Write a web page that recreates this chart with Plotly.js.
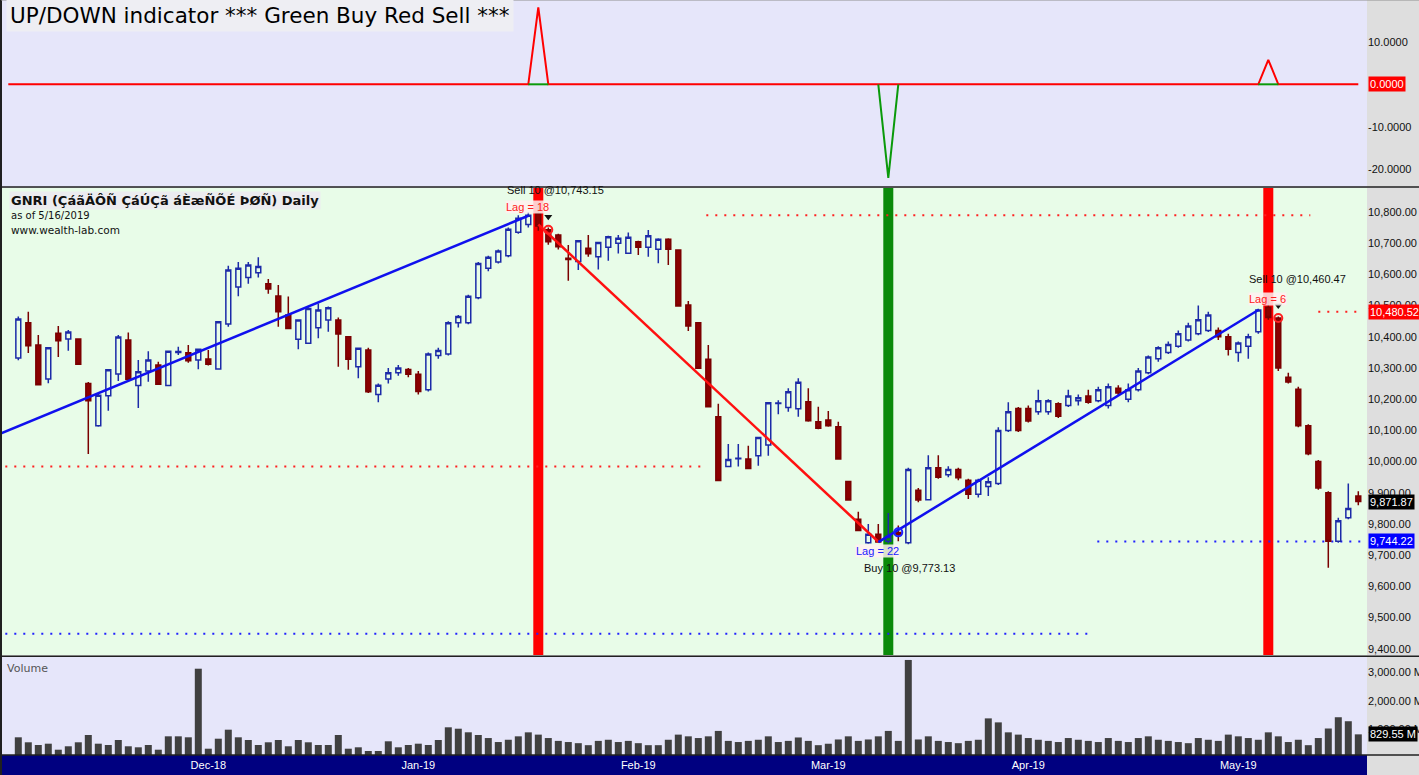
<!DOCTYPE html>
<html><head><meta charset="utf-8">
<script src="https://cdn.plot.ly/plotly-3.0.1.min.js"></script>
<style>html,body{margin:0;padding:0;background:#dedede;overflow:hidden}#chart{width:1419px;height:775px}</style>
</head><body><div id="chart"></div>
<script>
// ---- price data (bar index 0..134) ----
const openP = [10332,10445,10374,10265,10411,10393,10393,10250,10115,10211,10281,10390,10244,10290,10310,10244,10350,10349,10326,10329,
10297,10441,10560,10590,10605,10570,10531,10470,10392,10379,10429,10454,10454,10400,10304,10358,10215,10265,10285,10295,
10280,10230,10340,10345,10445,10445,10525,10620,10640,10660,10735,10760,10795,10743,10726,10652,10641,10684,10657,10687,
10700,10668,10705,10687,10681,10713,10678,10502,10445,10328,10144,9984,10009,10008,10019,10053,10186,10173,10169,10192,
10128,10133,10112,9936,9815,9740,9767,9745,9773,9740,9908,9878,9980,9958,9975,9940,9895,9920,9930,10100,
10170,10170,10160,10160,10185,10180,10195,10210,10195,10180,10235,10200,10230,10285,10330,10350,10370,10390,10410,10420,
10420,10400,10350,10370,10416,10495,10460,10270,10232,10115,10000,9900,9745,9820,9890];
const highP = [10465,10480,10406,10366,10435,10422,10395,10255,10218,10296,10406,10414,10326,10354,10320,10356,10368,10374,10362,10358,
10450,10628,10640,10640,10655,10585,10566,10529,10456,10495,10507,10497,10462,10402,10365,10365,10250,10300,10310,10300,
10290,10350,10365,10450,10470,10535,10640,10660,10680,10750,10790,10800,10830,10750,10730,10694,10710,10726,10705,10724,
10726,10734,10708,10742,10716,10716,10680,10515,10447,10374,10185,10056,10056,10051,10080,10191,10197,10235,10267,10235,
10176,10162,10128,9938,9839,9800,9800,9835,9795,9980,9915,10020,10020,9985,9980,9945,9945,9950,10110,10190,
10175,10180,10230,10200,10190,10230,10215,10230,10240,10250,10245,10250,10300,10340,10370,10385,10420,10445,10500,10480,
10430,10410,10385,10410,10490,10520,10465,10285,10240,10120,10005,9905,9820,9930,9905];
const lowP = [10325,10348,10245,10251,10335,10355,10310,10024,10112,10163,10258,10262,10172,10256,10246,10242,10342,10317,10296,10308,
10295,10432,10530,10570,10590,10538,10432,10425,10360,10377,10395,10416,10304,10294,10267,10220,10190,10250,10275,10270,
10215,10225,10330,10340,10430,10440,10520,10610,10635,10655,10730,10750,10740,10695,10680,10580,10614,10657,10616,10644,
10667,10666,10662,10657,10636,10630,10497,10419,10297,10174,9937,9982,9984,9976,9987,10019,10152,10160,10144,10128,
10104,10112,10006,9875,9777,9737,9740,9738,9745,9735,9870,9875,9945,9950,9940,9880,9885,9890,9925,10095,
10095,10125,10150,10150,10140,10175,10180,10185,10190,10170,10210,10190,10225,10280,10320,10345,10365,10385,10405,10415,
10390,10340,10320,10330,10410,10455,10290,10250,10110,10020,9910,9660,9740,9815,9860];
const closeP = [10457,10371,10246,10365,10387,10415,10312,10195,10213,10294,10399,10264,10288,10326,10248,10354,10353,10323,10360,10312,
10448,10614,10620,10630,10625,10553,10480,10427,10454,10491,10486,10493,10409,10328,10363,10224,10245,10285,10300,10280,
10225,10345,10356,10445,10465,10530,10635,10655,10675,10745,10780,10790,10755,10705,10689,10648,10708,10666,10702,10721,
10716,10719,10687,10724,10713,10681,10499,10435,10299,10176,9939,10007,10011,9978,10077,10189,10188,10224,10254,10131,
10107,10115,10008,9877,9779,9767,9742,9760,9766,9975,9877,9980,9950,9975,9948,9895,9940,9935,10100,10160,
10100,10130,10195,10195,10145,10210,10205,10190,10230,10240,10220,10230,10290,10335,10365,10375,10410,10435,10455,10470,
10400,10360,10380,10400,10486,10462,10300,10255,10115,10025,9915,9745,9810,9850,9871.87];
// volume in millions
const volumeM = [726,551,456,502,291,411,551,807,502,456,632,411,375,456,291,761,761,726,3133,326,
677,993,726,632,456,551,632,411,632,551,456,456,807,326,375,246,246,586,375,456,
502,456,632,1077,1028,902,807,700,560,640,760,900,820,700,600,560,520,450,600,640,
560,600,520,450,450,640,820,760,700,760,950,600,560,600,640,760,560,600,720,600,
450,500,650,760,600,650,760,950,600,3440,650,760,600,560,520,600,640,1390,1250,900,
820,700,640,600,560,700,640,600,560,700,600,560,700,760,640,600,560,520,700,640,
600,820,760,700,640,900,760,560,640,450,700,1035,1430,1290,829.55];
// UP/DOWN indicator spikes (bar, value)
const signalBars = [52, 87, 125];
const signalValues = [18.2, -22.1, 5.8];
const signalSide = ['sell','buy','sell'];
// month tick labels
const monthBars = [19, 40, 62, 81, 101, 122];
const monthLabels = ['Dec-18','Jan-19','Feb-19','Mar-19','Apr-19','May-19'];
// trend lines [bar, price]
const trendUp1 = {bars:[-2, 51], prices:[10087, 10788]};
const trendDown = {bars:[52, 86], prices:[10760, 9743]};
const trendUp2 = {bars:[86, 124], prices:[9742, 10486]};
// dotted levels
const levelFrom = [68.8, -1.3, 130, -1.3, 107.9];
const levelTo = [129.2, 68.2, 134.2, 107.2, 134.2];
const levelPrice = [10790, 9984, 10480.52, 9448, 9744.22];
const levelColor = ['#ff2020','#ff2020','#ff2020','#2020ff','#2020ff'];
// trades
const tradeBars = [53, 88, 126];
const tradePrices = [10743.15, 9773.13, 10460.47];
const tradeLabels = ['Sell 10 @10,743.15','Buy 10 @9,773.13','Sell 10 @10,460.47'];
const lagLabels = ['Lag = 18','Lag = 22','Lag = 6'];
// exit arrows above sell bars (bar, price)
const arrowBars = [53, 126];
const arrowPrices = [10785, 10500];
// price tags on the axis
const lastClose = 9871.87, stopLevel = 10480.52, buyLevel = 9744.22, lastVolume = 829.55;

const bars = closeP.map((_, i) => i);
const FONT = 'Liberation Sans, Arial, sans-serif';

// indicator series (starts one bar before the first price bar)
const indX = [-1].concat(bars);
const indRed = indX.map(() => 0);
const greenX = [], greenY = [];
signalBars.forEach((b, k) => {
  if (signalValues[k] > 0) indRed[b + 1] = signalValues[k];
  greenX.push(b - 1, b, b + 1, null);
  greenY.push(0, signalValues[k] > 0 ? 0 : signalValues[k], 0, null);
});

const traces = [
  {type:'scatter', mode:'lines', x:indX, y:indRed, xaxis:'x', yaxis:'y', line:{color:'#ff0000', width:2}, hoverinfo:'skip'},
  {type:'scatter', mode:'lines', x:greenX, y:greenY, xaxis:'x', yaxis:'y', line:{color:'#0a9a0a', width:2}, hoverinfo:'skip', connectgaps:false},
  {type:'candlestick', x:bars, open:openP, high:highP, low:lowP, close:closeP, xaxis:'x', yaxis:'y2',
    increasing:{line:{color:'#1c2aa8', width:1.5}, fillcolor:'rgba(0,0,0,0)'},
    decreasing:{line:{color:'#7a0000', width:1.5}, fillcolor:'#8b0000'}, whiskerwidth:0, hoverinfo:'skip'},
  {type:'scatter', mode:'lines', x:trendUp1.bars, y:trendUp1.prices, xaxis:'x', yaxis:'y2', line:{color:'#1010ee', width:2.5}, hoverinfo:'skip'},
  {type:'scatter', mode:'lines', x:trendDown.bars, y:trendDown.prices, xaxis:'x', yaxis:'y2', line:{color:'#ff1010', width:2.5}, hoverinfo:'skip'},
  {type:'scatter', mode:'lines', x:trendUp2.bars, y:trendUp2.prices, xaxis:'x', yaxis:'y2', line:{color:'#1010ee', width:2.5}, hoverinfo:'skip'},
  {type:'scatter', mode:'markers', x:tradeBars, y:tradePrices, xaxis:'x', yaxis:'y2',
    marker:{symbol:'circle-open', size:8, color:signalSide.map(s => s==='buy' ? '#2020ff' : '#ff2020'), line:{width:2}}, hoverinfo:'skip'},
  {type:'scatter', mode:'markers', x:arrowBars, y:arrowPrices, xaxis:'x', yaxis:'y2',
    marker:{symbol:'triangle-down', size:7, color:'#111111'}, hoverinfo:'skip'},
  {type:'bar', x:bars, y:volumeM, xaxis:'x', yaxis:'y3', marker:{color:'#404040'}, width:0.7, hoverinfo:'skip'}
];

const topDom = [0.7523, 1], midDom = [0.13245, 0.75099], volDom = [0, 0.1298];
const shapes = [
  {type:'rect', xref:'paper', yref:'paper', x0:0, x1:1, y0:midDom[0], y1:midDom[1], fillcolor:'#e8fce8', line:{width:0}, layer:'below'},
  {type:'rect', xref:'paper', yref:'paper', x0:-0.002, x1:1, y0:-0.03, y1:0, fillcolor:'#000080', line:{width:0}, layer:'below'},
];
signalBars.forEach((b, k) => {
  shapes.push({type:'rect', xref:'x', yref:'y2 domain', x0:b-0.5, x1:b+0.5, y0:0, y1:1,
    fillcolor: signalSide[k]==='buy' ? '#0a8a0a' : '#ff0000', line:{width:0}, layer:'below'});
});
levelPrice.forEach((p, k) => {
  shapes.push({type:'line', xref:'x', yref:'y2', x0:levelFrom[k], x1:levelTo[k], y0:p, y1:p,
    line:{color:levelColor[k], width:2, dash:'2px,7px'}, layer:'below'});
});
[topDom[0], midDom[0] - 0.0015, 0].forEach(y => {
  shapes.push({type:'line', xref:'paper', yref:'paper', x0:0, x1:1.05, y0:y, y1:y, line:{color:'#202020', width:1.5}, layer:'above'});
});
shapes.push({type:'line', xref:'paper', yref:'paper', x0:0, x1:0, y0:-0.03, y1:1, line:{color:'#202020', width:2}, layer:'above'});
shapes.push({type:'line', xref:'paper', yref:'paper', x0:0, x1:1.05, y0:1, y1:1, line:{color:'#909090', width:1}, layer:'above'});

const tag = (yref, y, text, bg) => ({xref:'paper', yref:yref, x:1, y:y, xanchor:'left', yanchor:'middle', xshift:1,
  text:text, showarrow:false, bgcolor:bg, borderpad:1, font:{family:FONT, size:11, color:'#ffffff'}});
const fmt = v => v.toLocaleString('en-US', {minimumFractionDigits:2, maximumFractionDigits:2});

const annotations = [
  {xref:'paper', yref:'paper', x:0.004, y:0.979, xanchor:'left', yanchor:'middle', showarrow:false,
    text:'UP/DOWN indicator *** Green Buy Red Sell ***', bgcolor:'#eeeef3', borderpad:3,
    font:{family:'DejaVu Sans, Verdana, sans-serif', size:21.5, color:'#000000'}},
  {xref:'paper', yref:'paper', x:0.006, y:0.7338, xanchor:'left', yanchor:'middle', showarrow:false,
    text:'<b>GNRI (ÇáãÄÔÑ ÇáÚÇã áÈæÑÕÉ ÞØÑ) Daily</b>', bgcolor:'#ececf0', borderpad:1,
    font:{family:'DejaVu Sans, Verdana, sans-serif', size:13, color:'#111111'}},
  {xref:'paper', yref:'paper', x:0.006, y:0.7152, xanchor:'left', yanchor:'middle', showarrow:false,
    text:'as of 5/16/2019', font:{family:'DejaVu Sans, Verdana, sans-serif', size:10, color:'#111111'}},
  {xref:'paper', yref:'paper', x:0.006, y:0.6954, xanchor:'left', yanchor:'middle', showarrow:false,
    text:'www.wealth-lab.com', font:{family:'DejaVu Sans, Verdana, sans-serif', size:10.5, color:'#111111'}},
  {xref:'paper', yref:'paper', x:0.003, y:0.1152, xanchor:'left', yanchor:'middle', showarrow:false,
    text:'Volume', font:{family:'DejaVu Sans, Verdana, sans-serif', size:11, color:'#555555'}},
  tag('y', 0, '0.0000', '#ff0000'),
  tag('y2', stopLevel, fmt(stopLevel), '#ff0000'),
  tag('y2', lastClose, fmt(lastClose), '#000000'),
  tag('y2', buyLevel, fmt(buyLevel), '#0000ff'),
  tag('y3', lastVolume, fmt(lastVolume) + ' M', '#000000'),
];
const tradeLabelDx = [-4.3, -3.6, -3.1];
const tradeLabelY = [10870, 9659, 10585];
const lagY = [10816, 9713, 10521];
const lagDx = [-4.3, -4.3, -3.0];
tradeBars.forEach((b, k) => {
  annotations.push({xref:'x', yref:'y2', x:b + tradeLabelDx[k], y:tradeLabelY[k], xanchor:'left', yanchor:'middle', showarrow:false,
    text:tradeLabels[k], font:{family:FONT, size:11, color:'#111111'}});
  annotations.push({xref:'x', yref:'y2', x:b + lagDx[k], y:lagY[k], xanchor:'left', yanchor:'middle', showarrow:false,
    text:lagLabels[k], bgcolor:'rgba(255,240,240,0.85)', borderpad:0,
    font:{family:FONT, size:11, color: signalSide[k]==='buy' ? '#2020ff' : '#ff2020'}});
});

const yCommon = {side:'right', anchor:'x', showgrid:false, zeroline:false, showline:false, ticks:'', fixedrange:true,
  tickfont:{family:FONT, size:11, color:'#111111'}};
const priceTicks = []; for (let p = 9400; p <= 10800; p += 100) priceTicks.push(p);

const layout = {
  width:1419, height:775, margin:{l:1, r:52, t:0, b:20}, paper_bgcolor:'#dedede', plot_bgcolor:'#e6e6fa',
  showlegend:false, bargap:0.3, hovermode:false,
  xaxis:{range:[-1.73, 134.87], anchor:'y3', showgrid:false, zeroline:false, showline:false, ticks:'',
    tickvals:monthBars, ticktext:monthLabels, tickfont:{family:FONT, size:11, color:'#ffffff'},
    rangeslider:{visible:false}, fixedrange:true, ticklabelstandoff:2},
  yaxis: Object.assign({}, yCommon, {domain:topDom, range:[-24.26, 19.92], tickvals:[10,-10,-20],
    ticktext:['10.0000','-10.0000','-20.0000']}),
  yaxis2: Object.assign({}, yCommon, {domain:midDom, range:[9380, 10877], tickvals:priceTicks, tickformat:',.2f'}),
  yaxis3: Object.assign({}, yCommon, {domain:volDom, range:[105, 3544], tickvals:[1000,2000,3000],
    ticktext:['1,000.00 M','2,000.00 M','3,000.00 M']}),
  shapes:shapes, annotations:annotations
};
Plotly.newPlot('chart', traces, layout, {staticPlot:true, displayModeBar:false});
</script></body></html>
